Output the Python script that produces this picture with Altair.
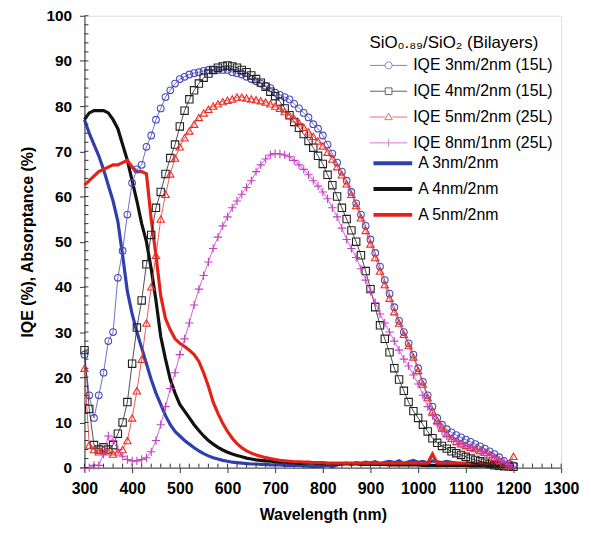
import altair as alt
import pandas as pd

# ---------------- data ----------------
wavelength = list(range(300, 1201, 10))

iqe_3nm_2nm = [25, 16, 11, 16, 21, 28, 30, 42, 48, 56,
               63, 66, 67, 71, 73.5, 77, 79.5, 82, 83.5, 85,
               86, 86.5, 87, 87.3, 87.5, 87.8, 88, 88, 88, 88,
               88, 87.5, 87.3, 87, 86.5, 86, 85.5, 85, 84.5, 84,
               83, 82.5, 82, 81.5, 80.5, 79.5, 78.5, 77.5, 76, 75,
               73.5, 71.5, 69.5, 67.5, 65.5, 63.5, 61, 58.5, 56, 53.5,
               50.5, 47.5, 44.5, 41.5, 38.5, 35.5, 32.5, 30, 27.5, 25,
               22, 19, 16, 13.5, 11, 9.5, 8.5, 7.8, 7.2, 6.7,
               6.2, 5.7, 5.2, 4.7, 4.2, 3.6, 3, 2.3, 1.5, 0.8,
               0.5]

iqe_4nm_2nm = [26, 13, 5, 4, 4.5, 4, 5, 7.5, 10, 14.5,
               23, 31, 37, 45, 51.5, 57.5, 61, 65, 68.5, 71.5,
               75.5, 79, 81.5, 83.5, 85, 86.3, 87.2, 88, 88.5, 88.8,
               89, 88.8, 88.5, 88, 87.5, 86.8, 86, 85.2, 84.3, 83.2,
               82.2, 81, 79.5, 78, 76.5, 75.2, 73.8, 72.3, 70.8, 69,
               67.2, 64.8, 62.5, 60, 57.5, 55, 52.5, 50, 47, 43.5,
               39.5, 35.5, 31.5, 28.5, 25.5, 22, 19.5, 17, 14.5, 12.5,
               11, 9.5, 8, 6.5, 5.5, 4.8, 4.2, 3.6, 3.2, 2.8,
               2.4, 2, 1.7, 1.4, 1.1, 0.8, 0.5, 0.4, 0.3, 0.3,
               0.2]

iqe_5nm_2nm = [22, 5, 4, 3.5, 4, 3.5, 3, 3.5, 4, 6,
               11, 17, 24, 32, 40, 47, 55, 60.5, 65, 68.5,
               71, 73, 74.5, 76, 77.5, 78.5, 79.3, 80, 80.5, 81,
               81.3, 81.6, 82, 82, 81.8, 81.6, 81.4, 81.2, 80.9, 80.5,
               80, 79.5, 78.8, 78, 77.2, 76.3, 75.3, 74.3, 73.3, 72.3,
               71.2, 69.8, 68.3, 66.6, 64.8, 62.8, 60.5, 58, 55.3, 52.5,
               49.5, 46.5, 43.5, 40.5, 37.5, 34.5, 32, 29.5, 27, 24.5,
               21.5, 18.5, 15.5, 12.5, 10.5, 9, 7.5, 6.5, 5.8, 5.3,
               4.9, 4.5, 4.2, 3.8, 3.4, 2.9, 2.3, 1.7, 1, 0.6,
               2.5]

iqe_8nm_1nm = [0, 0, 0.5, 0.5, 3, 7, 6, 4, 2.5, 1.8,
               1.5, 1.5, 1.8, 2.2, 3.5, 6, 9.5, 13.5, 17.5, 21,
               25, 28.5, 32, 36, 39.5, 42.5, 45.5, 48.5, 51, 53.5,
               55.5, 57.5, 59, 60.5, 62, 63.5, 65.5, 67, 68.3, 69.2,
               69.5, 69.4, 69.2, 68.8, 68, 67, 66, 64.8, 63.5, 62.3,
               61, 59.5, 57.5, 55.5, 53, 50.5, 48.5, 46.5, 44, 41.5,
               39, 36.5, 34, 32, 30, 28, 26, 24, 22.5, 20.5,
               18.5, 16, 13.5, 11.5, 9.5, 8, 7, 6.3, 5.8, 5.3,
               4.8, 4.4, 4, 3.6, 3.2, 2.7, 2.2, 1.7, 1.2, 0.7,
               0.3]

abs_3nm_2nm = [77, 74, 71.5, 69, 66, 62.5, 59, 54.5, 47, 39,
               34, 30, 26.5, 23, 19.5, 16.5, 14, 11.5, 9.5, 8,
               7, 6, 5.2, 4.4, 3.7, 3.1, 2.6, 2.2, 1.9, 1.6,
               1.4, 1.2, 1.1, 1, 0.9, 0.8, 0.8, 0.7, 0.7, 0.6,
               0.6, 0.6, 0.5, 0.5, 0.5, 0.5, 0.4, 0.3, 0.2, 0.2,
               0.3, 0.5, 0.2, 0.6, 0.8, 1, 0.7, 1.1, 0.9, 1.2,
               1, 1.3, 0.8, 1.2, 1.4, 1.1, 1.5, 0.9, 1.3, 1.6,
               1.2, 1.4, 1, 1.5, 1.3, 1.1, 1.4, 1.2, 1, 0.9,
               0.8, 0.7, 0.6, 0.5, 0.5, 0.4, 0.4, 0.3, 0.3, 0.3,
               0.3]

abs_4nm_2nm = [77, 78.5, 79, 79, 79, 78.5, 77, 75, 71.5, 68,
               63.5, 59, 54, 50, 44, 37, 29, 24, 19.5, 16.5,
               14, 12.5, 11, 9.5, 8.2, 7, 6, 5.2, 4.5, 3.9,
               3.4, 3, 2.7, 2.4, 2.1, 1.9, 1.7, 1.6, 1.5, 1.4,
               1.3, 1.2, 1.2, 1.1, 1.1, 1, 1, 1, 1, 0.9,
               0.9, 0.9, 0.9, 0.8, 0.8, 0.8, 0.8, 0.8, 0.7, 0.7,
               0.7, 0.7, 0.7, 0.7, 0.6, 0.6, 0.6, 0.6, 0.6, 0.6,
               0.6, 0.5, 0.5, 0.5, 0.5, 0.5, 0.5, 0.5, 0.5, 0.5,
               0.5, 0.4, 0.4, 0.4, 0.4, 0.4, 0.3, 0.3, 0.3, 0.3,
               0.3]

abs_5nm_2nm = [62.5, 63.5, 64.5, 65.5, 66, 66.5, 67, 67, 67.5, 68,
               66.5, 65.5, 65.5, 65, 55, 47, 38, 33, 30.5, 28.5,
               27.5, 26.8, 26, 25, 23.5, 21, 18, 14.5, 12, 9.8,
               8, 6.5, 5.3, 4.4, 3.7, 3.2, 2.8, 2.5, 2.2, 2,
               1.8, 1.6, 1.5, 1.4, 1.3, 1.3, 1.2, 1.2, 1.1, 1.1,
               1.1, 1, 1, 1, 1, 1, 1, 1, 1, 1,
               1, 1, 1, 1, 1, 1, 1, 1, 1, 1,
               1, 1, 1, 3, 1, 1, 1, 1, 1, 1,
               1, 1, 1, 1, 1, 1, 1, 1, 1, 1,
               1]

iqe_names = ["IQE 3nm/2nm (15L)", "IQE 4nm/2nm (15L)",
             "IQE 5nm/2nm (25L)", "IQE 8nm/1nm (25L)"]
abs_names = ["A 3nm/2nm", "A 4nm/2nm", "A 5nm/2nm"]
legend_title = "SiO\u2080.\u2088\u2089/SiO\u2082 (Bilayers)"

x_tick_values = list(range(300, 1301, 100))
y_tick_values = list(range(0, 101, 10))
x_minor_ticks = list(range(300, 1301, 20))
y_minor_ticks = list(range(0, 101, 2))

# ---------------- styling ----------------
iqe_colors = ["#4b4bbb", "#222222", "#e8302a", "#c43fc4"]
abs_colors = ["#2f3fae", "#111111", "#e52218"]
point_shapes = ["circle", "square", "triangle-up", "M-1,0H1M0,-1V1"]
point_sizes = [45, 55, 55, 70]
legend_paths = [
    "M-1,0H1.03M1.97,0H4M1.97,0A0.47,0.47 0 1,1 1.03,0A0.47,0.47 0 1,1 1.97,0",
    "M-1,0H1.05M1.95,0H4M1.05,-0.45H1.95V0.45H1.05Z",
    "M-1,0H1M2,0H4M1.5,-0.55L2,0.35H1Z",
    "M-1,0H4M1.5,-0.5V0.5",
]
W, H = 480, 455
FONT = "Liberation Sans"

xs = alt.Scale(domain=[300, 1300], nice=False, zero=False)
ys = alt.Scale(domain=[0, 100], nice=False)

x_axis = alt.Axis(values=x_tick_values, format="d", grid=False, tickSize=5,
                  tickColor="#333", domainColor="#333", labelFont=FONT,
                  labelFontSize=16, labelFontWeight="bold", labelColor="black",
                  labelPadding=8, labelFlush=False, labelOverlap=False,
                  titleFont=FONT, titleFontSize=16, titleFontWeight="bold",
                  titleColor="black", titlePadding=10)
y_axis = alt.Axis(values=y_tick_values, format="d", grid=False, tickSize=5,
                  tickColor="#333", domainColor="#333", labelFont=FONT,
                  labelFontSize=15.5, labelFontWeight="bold", labelColor="black",
                  labelPadding=8, labelFlush=False, labelOverlap=False,
                  titleFont=FONT, titleFontSize=16, titleFontWeight="bold",
                  titleColor="black", titlePadding=10)

X = alt.X("wl:Q", scale=xs, axis=x_axis, title="Wavelength (nm)")
Y = alt.Y("v:Q", scale=ys, axis=y_axis, title="IQE (%), Absorptance (%)")


def frame(vals, name):
    return pd.DataFrame({"wl": wavelength, "v": vals, "series": name})


iqe_frames = [frame(v, n) for v, n in zip(
    [iqe_3nm_2nm, iqe_4nm_2nm, iqe_5nm_2nm, iqe_8nm_1nm], iqe_names)]
abs_frames = [frame(v, n) for v, n in zip(
    [abs_3nm_2nm, abs_4nm_2nm, abs_5nm_2nm], abs_names)]

layers = []

# absorptance lines (beneath the IQE markers)
for i, df in enumerate(abs_frames):
    layers.append(alt.Chart(df).mark_line(color=abs_colors[i], strokeWidth=3.2)
                  .encode(x=X, y=Y))

# IQE lines + markers
for i, df in enumerate(iqe_frames):
    base = alt.Chart(df).encode(x=X, y=Y)
    layers.append(base.mark_line(color=iqe_colors[i], strokeWidth=0.8))
    layers.append(base.mark_point(shape=point_shapes[i], filled=False,
                                  color=iqe_colors[i], size=point_sizes[i],
                                  strokeWidth=1.1, opacity=1))

# inward minor ticks
layers.append(alt.Chart(pd.DataFrame({"v": y_minor_ticks})).mark_rule(
    color="#333", strokeWidth=1).encode(y=Y, x=alt.value(0), x2=alt.value(4)))
layers.append(alt.Chart(pd.DataFrame({"wl": x_minor_ticks})).mark_rule(
    color="#333", strokeWidth=1).encode(x=X, y=alt.value(H), y2=alt.value(H - 4)))

iqe_legend = alt.Legend(orient="none", legendX=287, legendY=19,
                        title=legend_title, titleFont=FONT,
                        titleFontSize=17, titleFontWeight="normal",
                        titleColor="black", titlePadding=6,
                        labelFont=FONT, labelFontSize=16,
                        labelColor="black", labelOffset=28,
                        symbolSize=225, symbolStrokeWidth=1,
                        rowPadding=10, padding=0)

legend_iqe = alt.Chart(iqe_frames[0]).transform_filter("false").mark_point(
    filled=False, size=225, strokeWidth=1).encode(
    x=X, y=Y,
    shape=alt.Shape("series:N", scale=alt.Scale(domain=iqe_names, range=legend_paths),
                    legend=iqe_legend),
    color=alt.Color("series:N", scale=alt.Scale(domain=iqe_names, range=iqe_colors),
                    legend=iqe_legend),
)

legend_abs = alt.Chart(abs_frames[0]).transform_filter("false").mark_line(
    strokeWidth=4).encode(
    x=X, y=Y,
    color=alt.Color("series:N", scale=alt.Scale(domain=abs_names, range=abs_colors),
                    legend=alt.Legend(orient="none", legendX=289, legendY=139,
                                      title=None, labelFont=FONT, labelFontSize=16,
                                      labelColor="black", labelOffset=28,
                                      symbolType="M-1,0H4.2", symbolSize=225,
                                      symbolStrokeWidth=4, rowPadding=8,
                                      padding=0)),
)

layers += [legend_iqe, legend_abs]

chart = alt.layer(*layers).resolve_scale(
    color="independent", shape="independent"
).properties(
    width=W, height=H,
    autosize=alt.AutoSizeParams(type="none"),
    padding={"left": 77, "top": 6, "right": 22, "bottom": 60},
).configure_view(stroke="#333", strokeWidth=1.2).configure(background="white")

chart.save("out.html", embed_options={"renderer": "svg", "actions": False})
